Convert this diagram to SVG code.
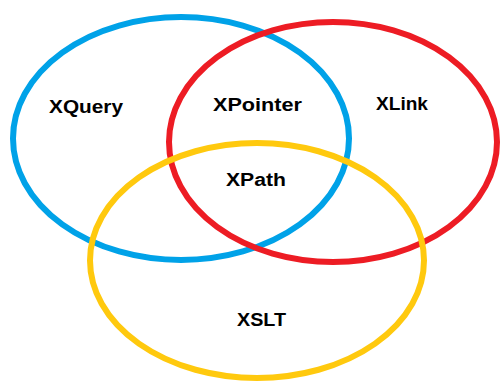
<svg xmlns="http://www.w3.org/2000/svg" width="501" height="383" viewBox="0 0 501 383">
<style>
.set{fill:none;stroke-width:6}
.lbl{font-family:"Liberation Sans",Arial,sans-serif;font-weight:bold;font-size:18px;fill:#000}
</style>
<rect width="501" height="383" fill="#fff"/>
<g id="xquery-set"><ellipse class="set" cx="181" cy="138.5" rx="168" ry="121.5" stroke="#00A2E8"/></g>
<g id="xlink-set"><ellipse class="set" cx="333" cy="142" rx="164" ry="120" stroke="#ED1C24"/></g>
<g id="xslt-set"><ellipse class="set" cx="257" cy="260.5" rx="167" ry="117.5" stroke="#FFC90E"/></g>
<g id="labels">
<text class="lbl" x="49" y="113" textLength="74" lengthAdjust="spacingAndGlyphs">XQuery</text>
<text class="lbl" x="213" y="111" textLength="89" lengthAdjust="spacingAndGlyphs">XPointer</text>
<text class="lbl" x="376" y="110" textLength="52" lengthAdjust="spacingAndGlyphs">XLink</text>
<text class="lbl" x="226" y="186" textLength="60" lengthAdjust="spacingAndGlyphs">XPath</text>
<text class="lbl" x="237" y="326" textLength="49" lengthAdjust="spacingAndGlyphs">XSLT</text>
</g>
</svg>
